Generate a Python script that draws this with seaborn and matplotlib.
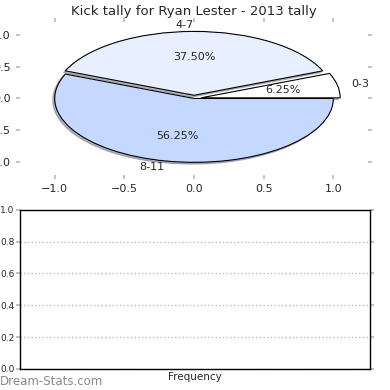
import matplotlib
matplotlib.use("Agg")
import matplotlib.pyplot as plt
import seaborn as sns

labels = ["0-3", "4-7", "8-11"]
counts = [1, 6, 9]
colors = ["#ffffff", "#e8f0ff", "#c5d8ff"]
explode = [0.05, 0.05, 0.0]
freq_ticks = [0.0, 0.2, 0.4, 0.6, 0.8, 1.0]
pie_ticks = [-1.0, -0.5, 0.0, 0.5, 1.0]

sns.set_theme(style="white")
plt.rcParams["font.family"] = ["DejaVu Sans"]

fig = plt.figure(figsize=(3.9, 3.9), dpi=100)
ax1 = fig.add_axes([0.051, 0.551, 0.893, 0.393])
ax2 = fig.add_axes([0.051, 0.054, 0.898, 0.408])

wedges, texts, autotexts = ax1.pie(
    counts, labels=labels, colors=colors, explode=explode, autopct="%.2f%%",
    startangle=0, shadow={"ox": -0.01, "oy": -0.02, "shade": 0.5}, frame=True,
    wedgeprops={"edgecolor": "black", "linewidth": 0.8},
    textprops={"fontsize": 8},
)
ax1.set_aspect("auto")
ax1.set_xlim(-1.25, 1.25)
ax1.set_ylim(-1.2, 1.2)
ax1.set_xticks(pie_ticks)
ax1.set_yticks(pie_ticks)
for s in ax1.spines.values():
    s.set_visible(False)
ax1.tick_params(axis="both", which="both", labelsize=8, length=3, color="#bbbbbb",
                bottom=True, top=True, left=True, right=True, direction="out")
ax1.set_title("Kick tally for Ryan Lester - 2013 tally", fontsize=9.5, pad=5)

ax2.set_ylim(0, 1)
ax2.set_xlim(0, 1)
ax2.set_yticks(freq_ticks)
ax2.set_xticks([])
ax2.grid(axis="y", linestyle=":", color="#bbbbbb", linewidth=1)
for s in ax2.spines.values():
    s.set_visible(True)
    s.set_color("black")
    s.set_linewidth(1)
ax2.tick_params(axis="y", labelsize=6.5, length=3, color="#bbbbbb", left=True, right=True, pad=1)
ax2.set_xlabel("Frequency", fontsize=7.5, labelpad=2)

fig.text(0.0, 0.005, "Dream-Stats.com", color="#8a8a8a", fontsize=8.5, ha="left", va="bottom")

fig.savefig("out.png", dpi=100)
